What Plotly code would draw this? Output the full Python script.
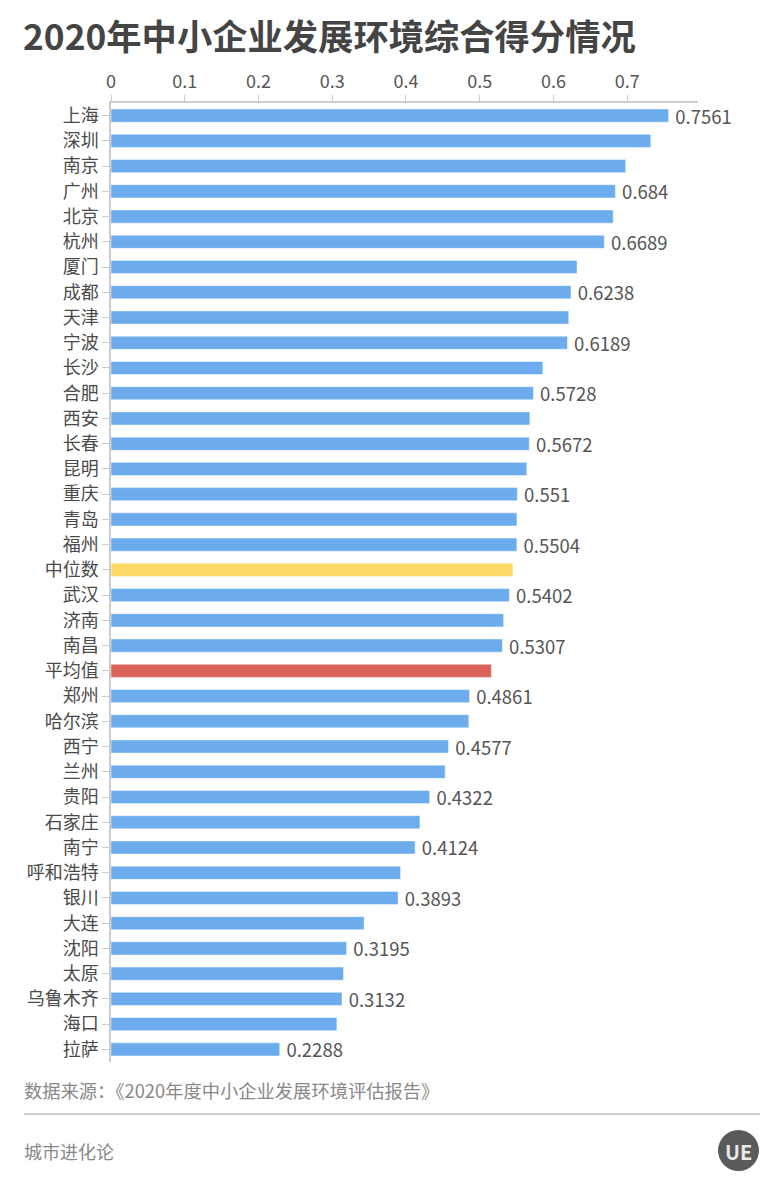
import plotly.graph_objects as go

cities = ["上海", "深圳", "南京", "广州", "北京", "杭州", "厦门", "成都", "天津", "宁波",
          "长沙", "合肥", "西安", "长春", "昆明", "重庆", "青岛", "福州", "中位数", "武汉",
          "济南", "南昌", "平均值", "郑州", "哈尔滨", "西宁", "兰州", "贵阳", "石家庄", "南宁",
          "呼和浩特", "银川", "大连", "沈阳", "太原", "乌鲁木齐", "海口", "拉萨"]
scores = [0.7561, 0.732, 0.698, 0.684, 0.681, 0.6689, 0.632, 0.6238, 0.6207, 0.6189,
          0.5856, 0.5728, 0.568, 0.5672, 0.5639, 0.551, 0.5505, 0.5504, 0.545, 0.5402,
          0.5324, 0.5307, 0.5158, 0.4861, 0.4852, 0.4577, 0.4532, 0.4322, 0.4189, 0.4124,
          0.3927, 0.3893, 0.3432, 0.3195, 0.3153, 0.3132, 0.3063, 0.2288]
shown_labels = ["0.7561", "", "", "0.684", "", "0.6689", "", "0.6238", "", "0.6189",
                "", "0.5728", "", "0.5672", "", "0.551", "", "0.5504", "", "0.5402",
                "", "0.5307", "", "0.4861", "", "0.4577", "", "0.4322", "", "0.4124",
                "", "0.3893", "", "0.3195", "", "0.3132", "", "0.2288"]
tick_vals = [0, 0.1, 0.2, 0.3, 0.4, 0.5, 0.6, 0.7]
tick_text = ["0", "0.1", "0.2", "0.3", "0.4", "0.5", "0.6", "0.7"]

BLUE = "#6caced"
colors = []
for c in cities:
    if c == "中位数":
        colors.append("#fdda66")
    elif c == "平均值":
        colors.append("#d9625c")
    else:
        colors.append(BLUE)

FONT = "Noto Sans CJK SC"
OFF = 8  # browser default body margin
W, H = 782 - OFF, 1186 - OFF
PLOT_L, PLOT_R, PLOT_T, PLOT_B = 111 - OFF, 698 - OFF, 103 - OFF, 1062 - OFF
L, R, T, B = PLOT_L, W - PLOT_R, PLOT_T, H - PLOT_B
PW, PH = PLOT_R - PLOT_L, PLOT_B - PLOT_T


def px(x):
    return (x - OFF - PLOT_L) / PW


def py(y):
    return (PLOT_B - (y - OFF)) / PH


fig = go.Figure(go.Bar(
    y=cities, x=scores, orientation="h",
    marker=dict(color=colors, line=dict(color="rgba(255,255,255,0.45)", width=1)),
    text=[("\u2009" + t) if t else "" for t in shown_labels],
    textposition="outside", cliponaxis=False, constraintext="none",
    textfont=dict(family=FONT, size=18.5, color="#555555"),
    width=0.52,
))

fig.update_layout(
    width=W, height=H,
    margin=dict(l=L, r=R, t=T, b=B, pad=0),
    paper_bgcolor="white", plot_bgcolor="white",
    showlegend=False,
    font=dict(family=FONT),
    title=dict(text="<b>2020年中小企业发展环境综合得分情况</b>",
               x=(23 - OFF) / W, xref="container", xanchor="left",
               y=1 - (38 - OFF) / H, yref="container", yanchor="middle",
               font=dict(family=FONT, size=35.3, color="#444444")),
    xaxis=dict(side="top", range=[0, 0.796], tickvals=tick_vals, ticktext=tick_text,
               showgrid=False, zeroline=False, showline=True, linecolor="#cccccc", linewidth=1.5,
               ticks="outside", ticklen=6, tickcolor="#cccccc", tickwidth=1,
               tickfont=dict(family=FONT, size=18, color="#555555")),
    yaxis=dict(autorange="reversed", showgrid=False, zeroline=False,
               showline=True, linecolor="#cccccc", linewidth=1.5,
               ticks="outside", ticklen=7, tickcolor="#cccccc", tickwidth=1,
               tickfont=dict(family=FONT, size=18, color="#4a4a4a")),
    annotations=[
        dict(text="数据来源：《2020年度中小企业发展环境评估报告》", xref="paper", yref="paper",
             x=px(22), y=py(1090), xanchor="left", yanchor="middle", showarrow=False,
             font=dict(family=FONT, size=18.3, color="#888888")),
        dict(text="城市进化论", xref="paper", yref="paper",
             x=px(22), y=py(1151), xanchor="left", yanchor="middle", showarrow=False,
             font=dict(family=FONT, size=18, color="#888888")),
        dict(text="<b>UE</b>", xref="paper", yref="paper",
             x=px(738), y=py(1151), xanchor="center", yanchor="middle", showarrow=False,
             font=dict(family=FONT, size=20, color="#e8e8e8")),
    ],
    shapes=[
        dict(type="line", xref="paper", yref="paper", x0=px(24), x1=px(760),
             y0=py(1114), y1=py(1114), line=dict(color="#cccccc", width=2)),
        dict(type="circle", xref="paper", yref="paper", x0=px(718), x1=px(759),
             y0=py(1130), y1=py(1171), fillcolor="#5a5a5a", line=dict(color="#5a5a5a", width=0)),
    ],
)

fig.write_html("out.html")
